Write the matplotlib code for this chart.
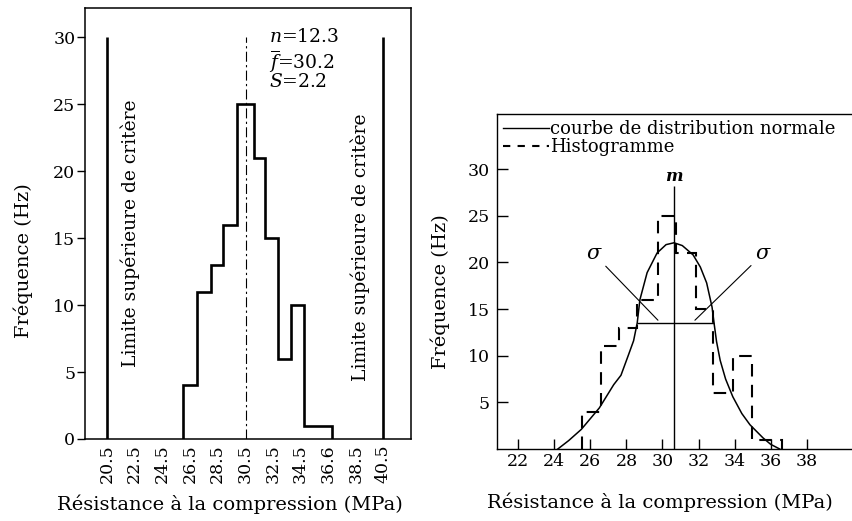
import matplotlib
matplotlib.use("Agg")
import matplotlib.pyplot as plt
from matplotlib.lines import Line2D

plt.rcParams['font.family'] = ['DejaVu Serif']
plt.rcParams['mathtext.fontset'] = 'dejavuserif'

# left panel: histogram with criterion limits
left_edges = [26.0, 27.0, 28.0, 28.9, 29.9, 31.15, 31.95, 32.9, 33.8, 34.75, 36.8]
counts = [4, 11, 13, 16, 25, 21, 15, 6, 10, 1]
limits = [20.5, 40.5]
limit_top = 30
center_left = 30.55
left_ticks = [20.5, 22.5, 24.5, 26.5, 28.5, 30.5, 32.5, 34.5, 36.5, 38.5, 40.5]
left_ticklabels = ['20.5', '22.5', '24.5', '26.5', '28.5', '30.5', '32.5',
                   '34.5', '36.6', '38.5', '40.5']
stats = ['$n$=12.3', r'$\overline{f}$=30.2', '$S$=2.2']
stats_y = [30.0, 28.2, 26.7]
limit_label = 'Limite supérieure de critère'

# right panel: histogram + normal curve
right_edges = [25.55, 26.6, 27.6, 28.6, 29.75, 30.75, 31.85, 32.8, 33.9, 34.95, 36.6]
curve_x = [24.2, 24.8, 25.5, 26.5, 27.3, 27.7, 28.1, 28.4, 28.6, 28.75, 29.15,
           29.7, 30.2, 30.64, 31.1, 31.7, 32.1, 32.45, 32.75, 32.86, 33.0, 33.2,
           33.5, 33.9, 34.4, 34.85, 35.57, 36.0, 36.5]
curve_y = [0, 0.9, 2.1, 4.4, 6.9, 7.9, 10.0, 11.6, 13.5, 16.0, 18.9,
           21.0, 21.9, 22.1, 21.8, 20.8, 19.5, 17.8, 15.2, 13.5, 11.5, 9.5,
           7.5, 5.6, 3.8, 2.6, 1.2, 0.5, 0]
m_x = 30.64
m_top = 28.2
sigma_y = 13.5
sigma_lo, sigma_hi = 28.6, 32.86
right_xticks = [22, 24, 26, 28, 30, 32, 34, 36, 38]
right_yticks = [5, 10, 15, 20, 25, 30]

fig = plt.figure(figsize=(8.53, 5.21), dpi=100)

# ---- left
axL = fig.add_axes([0.0997, 0.1574, 0.3821, 0.8272])
for s in axL.spines.values():
    s.set_linewidth(1.1)
axL.stairs(counts, left_edges, baseline=0, color='black', lw=1.9)
axL.vlines(limits, 0, limit_top, color='black', lw=1.9)
axL.vlines(center_left, 0, limit_top, color='black', lw=0.8,
           linestyles=(0, (9, 3, 2, 3)))
for lx, ly in zip(limits, [15.4, 14.3]):
    axL.text(lx + 1.7 if lx < 30 else lx - 1.7, ly, limit_label, rotation=90,
             ha='center', va='center', fontsize=13.5)
for t, y in zip(stats, stats_y):
    axL.text(32.2, y, t, ha='left', va='center', fontsize=13.5)
axL.set_xlim(18.9, 42.5)
axL.set_ylim(0, 32.2)
axL.set_xticks(left_ticks)
axL.set_xticklabels(left_ticklabels, rotation=90)
axL.set_yticks([0, 5, 10, 15, 20, 25, 30])
axL.tick_params(axis='x', length=0, pad=4, labelsize=12.5)
axL.tick_params(axis='y', length=6, width=1, pad=1, labelsize=12.5)
axL.set_xlabel('Résistance à la compression (MPa)', fontsize=14)
axL.set_ylabel('Fréquence (Hz)', fontsize=14)
axL.xaxis.set_label_coords(0.445, -0.128)
axL.yaxis.set_label_coords(-0.16, 0.415)

# ---- right
axR = fig.add_axes([0.5827, 0.1382, 0.4223, 0.6430])
axR.spines['right'].set_visible(False)
for s in axR.spines.values():
    s.set_linewidth(1.0)
axR.stairs(counts, right_edges, baseline=0, color='black', lw=1.5,
           linestyle=(0, (6, 4)))
axR.plot(curve_x, curve_y, color='black', lw=1.1)
axR.vlines(m_x, 0, m_top, color='black', lw=1.0)
axR.hlines(sigma_y, sigma_lo, sigma_hi, color='black', lw=1.0)
axR.text(m_x, 29.2, 'm', ha='center', va='center', fontsize=12,
         fontstyle='italic', fontweight='bold')
axR.annotate('σ', xy=(29.75, 13.8), xytext=(26.2, 20.9), ha='center',
             va='center', fontsize=15, fontstyle='italic',
             arrowprops=dict(arrowstyle='-', lw=0.8, shrinkA=2, shrinkB=0))
axR.annotate('σ', xy=(31.8, 13.8), xytext=(35.57, 20.9), ha='center',
             va='center', fontsize=15, fontstyle='italic',
             arrowprops=dict(arrowstyle='-', lw=0.8, shrinkA=2, shrinkB=0))
axR.set_xlim(20.83, 40.8)
axR.set_ylim(0, 35.9)
axR.set_xticks(right_xticks)
axR.set_yticks(right_yticks)
axR.tick_params(axis='x', direction='in', length=7, width=1, pad=3,
                labelsize=12.5)
axR.tick_params(axis='y', direction='in', length=8, width=1, pad=5,
                labelsize=12.5)
axR.set_xlabel('Résistance à la compression (MPa)', fontsize=14)
axR.set_ylabel('Fréquence (Hz)', fontsize=14)
axR.xaxis.set_label_coords(0.453, -0.131)
axR.yaxis.set_label_coords(-0.13, 0.469)
handles = [Line2D([], [], color='black', lw=1.0),
           Line2D([], [], color='black', lw=1.5, linestyle=(0, (3.5, 3.5)))]
axR.legend(handles, ['courbe de distribution normale', 'Histogramme'],
           loc='upper left', bbox_to_anchor=(0.0, 1.0), frameon=False,
           fontsize=13, handlelength=2.5, handletextpad=0.1,
           labelspacing=0.0, borderaxespad=0.1, borderpad=0.25)

fig.savefig('out.png', dpi=100)
